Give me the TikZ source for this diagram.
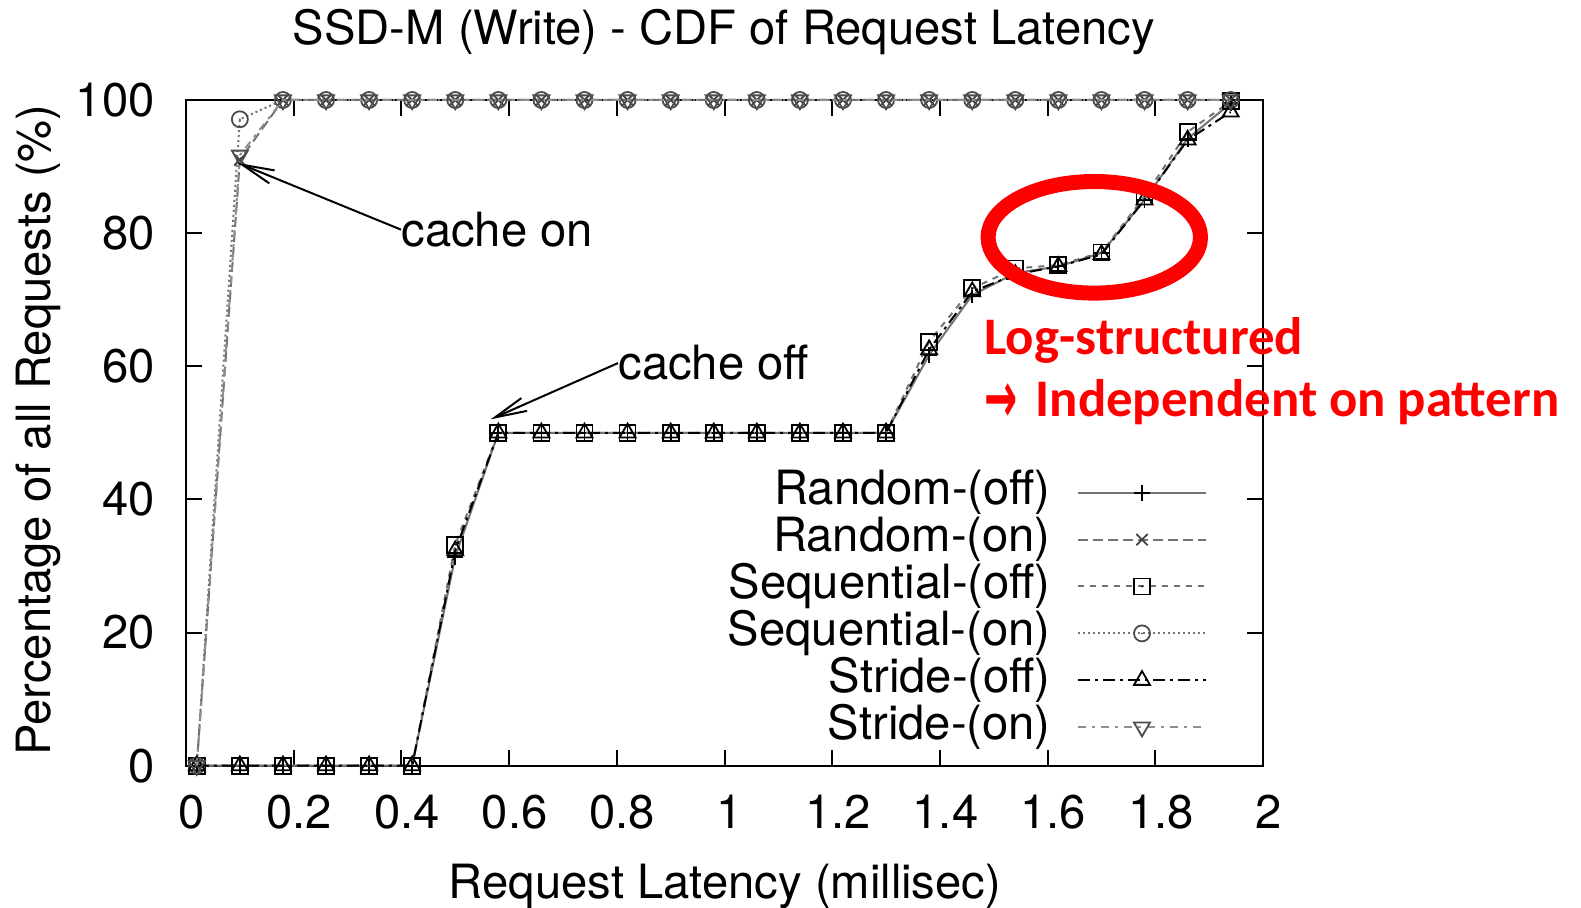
\documentclass[tikz,border=0pt]{standalone}
\usepackage{fontspec}
\setmainfont{TeX Gyre Heros}
\newfontfamily\notefont{Carlito}
\newfontfamily\arrowfont{DejaVu Sans}
\usetikzlibrary{arrows.meta}

\definecolor{plotgray}{gray}{0.45}
\definecolor{notered}{RGB}{255,0,0}

% gnuplot-like point types
\pgfdeclareplotmark{boxdot}{%
  \pgfpathrectangle{\pgfpoint{-\pgfplotmarksize}{-\pgfplotmarksize}}{\pgfpoint{2\pgfplotmarksize}{2\pgfplotmarksize}}%
  \pgfusepathqstroke
  \pgfpathcircle{\pgfpointorigin}{0.5pt}\pgfusepathqfill}
\pgfdeclareplotmark{ringdot}{%
  \pgfpathcircle{\pgfpointorigin}{\pgfplotmarksize}\pgfusepathqstroke
  \pgfpathcircle{\pgfpointorigin}{0.5pt}\pgfusepathqfill}
\pgfdeclareplotmark{triup}{%
  \pgfpathmoveto{\pgfqpointpolar{90}{\pgfplotmarksize}}%
  \pgfpathlineto{\pgfqpointpolar{210}{\pgfplotmarksize}}%
  \pgfpathlineto{\pgfqpointpolar{330}{\pgfplotmarksize}}%
  \pgfpathclose\pgfusepathqstroke}
\pgfdeclareplotmark{tridown}{%
  \pgfpathmoveto{\pgfqpointpolar{270}{\pgfplotmarksize}}%
  \pgfpathlineto{\pgfqpointpolar{30}{\pgfplotmarksize}}%
  \pgfpathlineto{\pgfqpointpolar{150}{\pgfplotmarksize}}%
  \pgfpathclose\pgfusepathqstroke}

\begin{document}
\begin{tikzpicture}[
    x=0.5pt, y=-0.5pt,
    lbl/.style={font=\fontsize{23.6}{27}\selectfont, inner sep=0pt},
    note/.style={notered, font=\notefont\bfseries\fontsize{26.4}{30}\selectfont, inner sep=0pt},
    frame/.style={line width=1pt, black},
    pointer/.style={->, >={Straight Barb[length=16pt, width=7pt]}, line width=1pt},
    curve/.style={line width=1pt, mark size=4pt, every mark/.append style={solid, line width=0.9pt}},
    randoff/.style={curve, plotgray, mark=+, every mark/.append style={black}},
    randon/.style={curve, plotgray, dash pattern=on 5pt off 2.5pt, mark=x, every mark/.append style={black!75}},
    seqoff/.style={curve, plotgray, dash pattern=on 3pt off 3pt, mark=boxdot, every mark/.append style={black}},
    seqon/.style={curve, plotgray, dash pattern=on 1pt off 1.5pt, mark=ringdot, every mark/.append style={black!70}},
    strideoff/.style={curve, black, dash pattern=on 6pt off 2.5pt on 1.5pt off 2.5pt, mark=triup, mark size=4.6pt},
    strideon/.style={curve, plotgray!80, dash pattern=on 4pt off 3pt on 1.5pt off 3pt, mark=tridown, mark size=4.6pt, every mark/.append style={black!70}}
]
    \useasboundingbox (0,0) rectangle (1581,908);

    \node[lbl, anchor=base] (title) at (724,45) {SSD-M (Write) - CDF of Request Latency};
    \node[lbl, anchor=base] (xlab) at (725,899) {Request Latency (millisec)};
    \node[lbl, anchor=base, rotate=90] (ylab) at (50.5,430) {Percentage of all Requests (\%)};

    % axes in data units
    \begin{scope}[shift={(186,765.7)}, x=269.25pt, y=3.3285pt]
        \draw[frame] (0,0) rectangle (2,100);
        \foreach \t in {0,20,...,100} {
            \draw[frame] (0,\t) -- ++(8pt,0);
            \draw[frame] (2,\t) -- ++(-8pt,0);
            \node[lbl, anchor=east] (ytick\t) at ([xshift=-15.5pt]0,\t) {\t};
        }
        \foreach \x/\txt [count=\k] in {0/0, 0.2/0.2, 0.4/0.4, 0.6/0.6, 0.8/0.8, 1/1, 1.2/1.2, 1.4/1.4, 1.6/1.6, 1.8/1.8, 2/2} {
            \draw[frame] (\x,0) -- ++(0,8pt);
            \draw[frame] (\x,100) -- ++(0,-8pt);
            \node[lbl] (xtick\k) at ([xshift=2.8pt, yshift=-23pt]\x,0) {\txt};
        }

        % measured curves
        \draw[randoff] plot coordinates {(0.02,0) (0.10,0) (0.18,0) (0.26,0) (0.34,0) (0.42,0) (0.50,31.4) (0.58,50) (0.66,50) (0.74,50) (0.82,50) (0.90,50) (0.98,50) (1.06,50) (1.14,50) (1.22,50) (1.30,50) (1.38,61.7) (1.46,70.7) (1.54,74) (1.62,75) (1.70,77) (1.78,85) (1.86,94.2) (1.94,99.5)};
        \draw[randon] plot coordinates {(0.02,0) (0.10,91) (0.18,100) (0.26,100) (0.34,100) (0.42,100) (0.50,100) (0.58,100) (0.66,100) (0.74,100) (0.82,100) (0.90,100) (0.98,100) (1.06,100) (1.14,100) (1.22,100) (1.30,100) (1.38,100) (1.46,100) (1.54,100) (1.62,100) (1.70,100) (1.78,100) (1.86,100) (1.94,100)};
        \draw[seqoff] plot coordinates {(0.02,0) (0.10,0) (0.18,0) (0.26,0) (0.34,0) (0.42,0) (0.50,33.2) (0.58,50) (0.66,50) (0.74,50) (0.82,50) (0.90,50) (0.98,50) (1.06,50) (1.14,50) (1.22,50) (1.30,50) (1.38,63.7) (1.46,71.7) (1.54,74.7) (1.62,75.2) (1.70,77.1) (1.78,85.5) (1.86,95.2) (1.94,99.8)};
        \draw[seqon] plot coordinates {(0.02,0) (0.10,97.1) (0.18,100) (0.26,100) (0.34,100) (0.42,100) (0.50,100) (0.58,100) (0.66,100) (0.74,100) (0.82,100) (0.90,100) (0.98,100) (1.06,100) (1.14,100) (1.22,100) (1.30,100) (1.38,100) (1.46,100) (1.54,100) (1.62,100) (1.70,100) (1.78,100) (1.86,100) (1.94,100)};
        \draw[strideoff] plot coordinates {(0.02,0) (0.10,0) (0.18,0) (0.26,0) (0.34,0) (0.42,0) (0.50,32.3) (0.58,50) (0.66,50) (0.74,50) (0.82,50) (0.90,50) (0.98,50) (1.06,50) (1.14,50) (1.22,50) (1.30,50) (1.38,62.5) (1.46,71.2) (1.54,73.8) (1.62,75) (1.70,76.8) (1.78,85) (1.86,94) (1.94,98.2)};
        \draw[strideon] plot coordinates {(0.02,0) (0.10,91.7) (0.18,100) (0.26,100) (0.34,100) (0.42,100) (0.50,100) (0.58,100) (0.66,100) (0.74,100) (0.82,100) (0.90,100) (0.98,100) (1.06,100) (1.14,100) (1.22,100) (1.30,100) (1.38,100) (1.46,100) (1.54,100) (1.62,100) (1.70,100) (1.78,100) (1.86,100) (1.94,100)};
    \end{scope}

    % legend
    \foreach \s/\txt [count=\r from 0] in {randoff/Random-(off), randon/Random-(on), seqoff/Sequential-(off), seqon/Sequential-(on), strideoff/Stride-(off), strideon/Stride-(on)} {
        \node[lbl, anchor=east] (key\r) at (1051,{492.7+46.9*\r}) {\txt};
        \draw[\s] (1078,{492.7+46.9*\r}) -- (1206,{492.7+46.9*\r}) plot coordinates {(1142,{492.7+46.9*\r})};
    }

    % annotations
    \node[lbl, anchor=base west] (cacheon) at (401,246.5) {cache on};
    \coordinate (ontip) at (238,163);
    \draw[pointer] (cacheon.west) -- (ontip);

    \node[lbl, anchor=base west] (cacheoff) at (618,380) {cache off};
    \coordinate (offtip) at (490.7,419.3);
    \draw[pointer] (cacheoff.west) -- (offtip);

    \draw[notered, line width=7.5pt] (1094.3,237.3) ellipse [x radius=53.1pt, y radius=27.9pt];
    \node[note, anchor=base west] (logs) at (984,355) {Log-structured};
    \node[note, anchor=base west] (indep) at (984,416.5) {\raisebox{-3pt}{\arrowfont\fontsize{36}{36}\selectfont\scalebox{0.55}[1]{→}}\hspace{9pt}Independent on pattern};
\end{tikzpicture}
\end{document}
